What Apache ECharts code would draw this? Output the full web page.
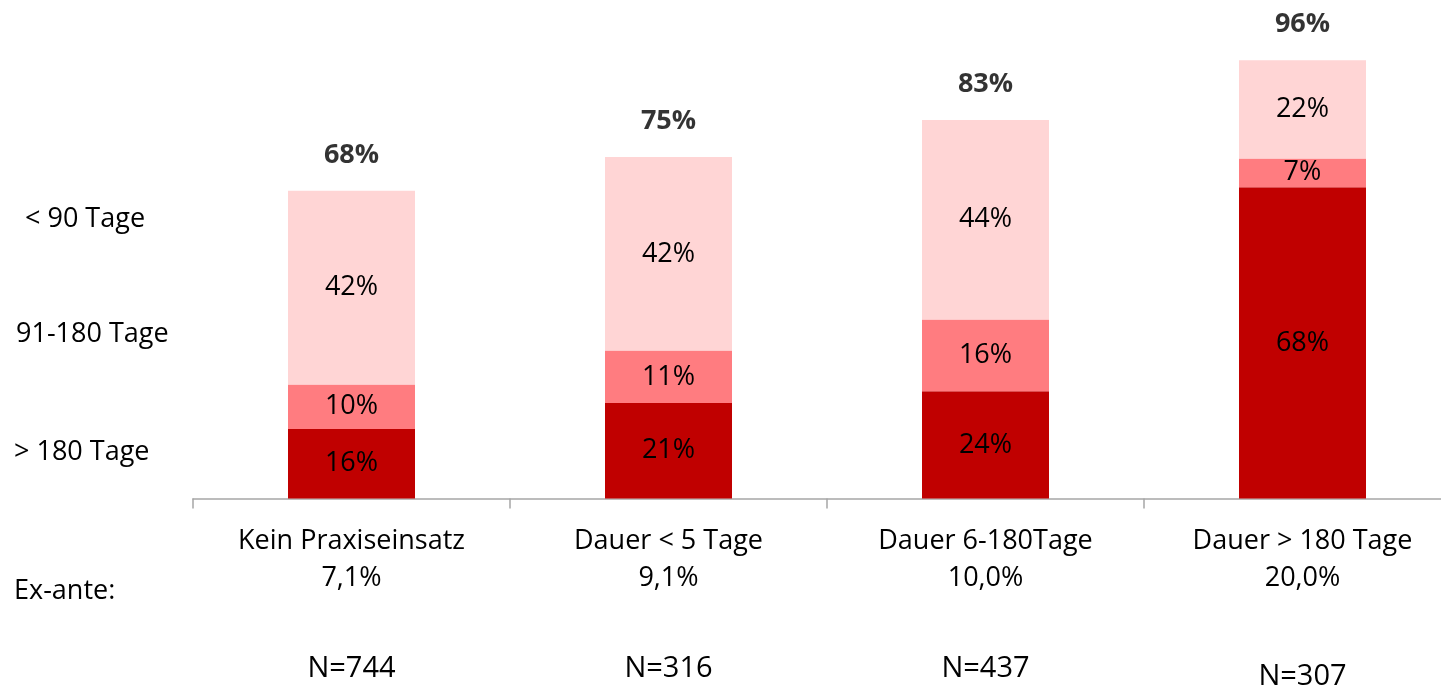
<!DOCTYPE html>
<head>
    <meta charset="utf-8">
    <title>Praxiseinsatz</title>
    <style>
        html, body { margin: 0; padding: 0; background: #fff; overflow: hidden; }
        /* etwas breiter als das Fenster, damit die letzte Kategorie rechts angeschnitten ist wie im Original */
        #main { width: 1461px; height: 691px; }
    </style>
</head>
<body>
    <div id="main"></div>
    <script src="https://cdn.jsdelivr.net/npm/echarts@6/dist/echarts.min.js"></script>
    <script type="text/javascript">
        // Kategorien und Werte (Anteile in %)
        var categories = ['Kein Praxiseinsatz', 'Dauer < 5 Tage', 'Dauer 6-180Tage', 'Dauer > 180 Tage'];
        var exAnte = ['7,1%', '9,1%', '10,0%', '20,0%'];
        var sampleN = ['N=744', 'N=316', 'N=437', 'N=307'];

        // Segmenthöhen
        var over180 = [15.2, 20.9, 23.5, 68.2];
        var mid91to180 = [9.8, 11.5, 15.7, 6.3];
        var under90 = [42.4, 42.4, 43.7, 21.5];

        // Beschriftungen wie im Original
        var over180Labels = ['16%', '21%', '24%', '68%'];
        var midLabels = ['10%', '11%', '16%', '7%'];
        var under90Labels = ['42%', '42%', '44%', '22%'];
        var totalLabels = ['68%', '75%', '83%', '96%'];

        var seriesNames = ['< 90 Tage', '91-180 Tage', '> 180 Tage'];

        var FONT = '"Open Sans"';
        var FS = 27;

        var totals = over180.map(function (v, i) { return v + mid91to180[i] + under90[i]; });

        var myChart = echarts.init(document.getElementById('main'));

        function segLabel(labels) {
            return {
                show: true,
                position: 'inside',
                color: '#000',
                fontFamily: FONT,
                fontSize: FS,
                formatter: function (p) { return labels[p.dataIndex]; }
            };
        }

        function sideText(txt, x, y) {
            return {
                type: 'text', x: x, y: y,
                style: { text: txt, fontFamily: FONT, fontSize: FS, fill: '#000', verticalAlign: 'middle' }
            };
        }

        var option = {
            animation: false,
            grid: { left: 193, right: 0, top: 42, height: 461 },
            xAxis: [{
                type: 'category',
                data: categories,
                axisLine: { lineStyle: { color: '#A6A6A6', width: 1.5 } },
                axisTick: { show: true, length: 10, lineStyle: { color: '#A6A6A6', width: 1.5 } },
                axisLabel: {
                    margin: 24,
                    interval: 0,
                    color: '#000',
                    fontFamily: FONT,
                    fontSize: FS,
                    lineHeight: 37,
                    formatter: function (v, i) { return v + '\n' + exAnte[i]; }
                }
            }, {
                type: 'category',
                data: sampleN,
                position: 'bottom',
                offset: 147,
                axisLine: { show: false },
                axisTick: { show: false },
                axisLabel: {
                    interval: 0,
                    margin: 8,
                    color: '#000',
                    formatter: function (v, i) { return i === 3 ? '{b|' + v + '}' : '{a|' + v + '}'; },
                    rich: {
                        a: { fontFamily: FONT, fontSize: 29, lineHeight: 30, color: '#000' },
                        b: { fontFamily: FONT, fontSize: 29, lineHeight: 30, color: '#000', padding: [16, 0, 0, 0] }
                    }
                }
            }],
            yAxis: { type: 'value', min: 0, max: 100, show: false },
            series: [{
                name: seriesNames[2],
                type: 'bar',
                stack: 'a',
                barWidth: 127,
                itemStyle: { color: '#C00000' },
                label: segLabel(over180Labels),
                data: over180
            }, {
                name: seriesNames[1],
                type: 'bar',
                stack: 'a',
                itemStyle: { color: '#FF7C80' },
                label: segLabel(midLabels),
                data: mid91to180
            }, {
                name: seriesNames[0],
                type: 'bar',
                stack: 'a',
                itemStyle: { color: '#FFD5D5' },
                label: segLabel(under90Labels),
                data: under90
            }, {
                name: 'Gesamt',
                type: 'scatter',
                symbolSize: 0,
                silent: true,
                label: {
                    show: true,
                    position: 'top',
                    distance: 22,
                    color: '#000',
                    fontFamily: FONT,
                    fontWeight: 'bold',
                    fontSize: FS,
                    formatter: function (p) { return totalLabels[p.dataIndex]; }
                },
                data: totals
            }],
            graphic: [
                sideText(seriesNames[0], 25, 219),
                sideText(seriesNames[1], 16, 334),
                sideText(seriesNames[2], 14, 452),
                sideText('Ex-ante:', 14, 591)
            ]
        };

        myChart.setOption(option);
    </script>
</body>
